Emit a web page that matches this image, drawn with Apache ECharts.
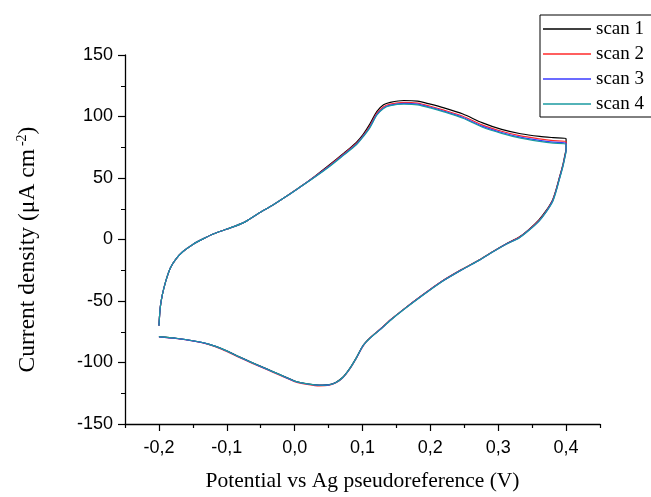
<!DOCTYPE html>
<html>
<head>
<meta charset="utf-8">
<script src="https://cdn.jsdelivr.net/npm/echarts@6/dist/echarts.min.js"></script>
<style>html,body{margin:0;padding:0;background:#fff;}#c{width:651px;height:497px;}</style>
</head>
<body>
<div id="c"></div>
<script>
// Potential (V): forward sweep -0.2 -> 0.4, then reverse sweep 0.4 -> -0.2
const potential = [
  -0.2, -0.198, -0.195, -0.19, -0.183, -0.175, -0.165, -0.15, -0.135, -0.12, -0.1, -0.076, -0.054, -0.032, -0.011, 0.009,
  0.03, 0.051, 0.071, 0.091, 0.101, 0.111, 0.121, 0.131, 0.141, 0.161, 0.181, 0.2, 0.22, 0.248, 0.276, 0.305, 0.333, 0.361, 0.381, 0.4,
  0.4, 0.398, 0.395, 0.39, 0.385, 0.38, 0.37, 0.36, 0.345, 0.331, 0.312, 0.293, 0.274, 0.246, 0.217, 0.189, 0.16, 0.141, 0.126,
  0.111, 0.101, 0.091, 0.081, 0.071, 0.061, 0.051, 0.036, 0.021, 0.0, -0.021, -0.042, -0.063, -0.085, -0.106, -0.127, -0.148, -0.175, -0.2
];
const scan1 = [
  -70, -55, -45, -34, -23, -16, -10, -4, 0.5, 4.5, 8.5, 13.5, 21, 28, 35.5, 43,
  51.5, 60.5, 69.5, 79, 85.5, 94, 104, 109.5, 111.5, 113, 112.5, 110, 107, 102, 95, 89.5, 86, 83.8, 82.8, 82,
  74, 68, 60, 50, 40, 32, 23, 16, 8, 2, -3.5, -9.5, -16, -24.5, -34, -45, -57, -65.5, -73,
  -80, -86, -96, -105, -112, -116, -118, -118.4, -117.5, -115, -110, -105, -100, -94.5, -89, -85, -82.5, -80.3, -79
];
const scan2 = [
  -70, -55, -45, -34, -23, -16, -10, -4, 0.5, 4.5, 8.5, 13.5, 21, 28, 35.5, 43,
  51.3, 60, 69, 78, 84.5, 92.5, 102.5, 108, 110, 111.5, 110.8, 108.3, 105.2, 100.2, 93.2, 88, 84.2, 81.8, 80.4, 79.5,
  73, 67, 59.5, 49.5, 39.5, 31.5, 22.5, 15.5, 7.8, 1.8, -3.6, -9.6, -16, -24.5, -34, -45, -57, -65.5, -73,
  -80, -86.5, -96.5, -105.5, -112.5, -116.5, -118.5, -119, -118, -115.5, -110.5, -105.5, -100.5, -95, -89.5, -85.3, -82.7, -80.5, -79.2
];
const scan3 = [
  -70, -55, -45, -34, -23, -16, -10, -4, 0.5, 4.5, 8.5, 13.5, 21, 28, 35.5, 43,
  51, 59.5, 68.5, 77.5, 84, 91.5, 101.5, 107, 109.2, 110.6, 110, 107.5, 104.3, 99.2, 92.2, 87, 83.2, 80.6, 79.2, 78.3,
  72.5, 66.5, 59, 49, 39, 31, 22, 15, 7.5, 1.5, -3.7, -9.7, -16.2, -24.7, -34.2, -45.2, -57.2, -65.7, -73.2,
  -80.2, -86.3, -96.3, -105.3, -112.3, -116.3, -118.2, -118.6, -117.7, -115.2, -110.2, -105.2, -100.2, -94.7, -89.2, -85.1, -82.6, -80.4, -79.1
];
const scan4 = [
  -70, -55, -45, -34, -23, -16, -10, -4, 0.5, 4.5, 8.5, 13.5, 21, 28, 35.5, 43,
  50.8, 59.2, 68, 77, 83.5, 91, 101, 106.5, 108.8, 110, 109.5, 107, 103.8, 98.6, 91.5, 86.3, 82.4, 79.8, 78.3, 77.3,
  72, 66, 58.5, 48.5, 38.5, 30.5, 21.8, 14.8, 7.3, 1.3, -3.8, -9.8, -16.3, -24.8, -34.3, -45.3, -57.3, -65.8, -73.3,
  -80.3, -86.2, -96.2, -105.2, -112.2, -116.2, -118.1, -118.5, -117.6, -115.1, -110.1, -105.1, -100.1, -94.6, -89.1, -85, -82.5, -80.3, -79
];
const seriesNames = ['scan 1', 'scan 2', 'scan 3', 'scan 4'];
const seriesColors = ['#000000', '#ff2a2a', '#3a3aff', '#1a9aa0'];
const xMajorTicks = [-0.2, -0.1, 0.0, 0.1, 0.2, 0.3, 0.4];
const xMinorTicks = [-0.25, -0.15, -0.05, 0.05, 0.15, 0.25, 0.35, 0.45];

const allScans = [scan1, scan2, scan3, scan4];
const chart = echarts.init(document.getElementById('c'), null, {renderer: 'canvas'});
const sans = 'Liberation Sans, Arial, sans-serif';
const serif = 'Liberation Serif, Times New Roman, serif';

chart.setOption({
  animation: false,
  backgroundColor: '#ffffff',
  grid: {left: 125, right: 51, top: 55, bottom: 71},
  legend: {
    orient: 'vertical', left: 540, top: 15,
    padding: [4, 40, 3, 3],
    itemWidth: 48, itemHeight: 1.5, itemGap: 5,
    icon: 'rect',
    borderColor: '#000', borderWidth: 1,
    textStyle: {fontFamily: serif, fontSize: 19, color: '#000', lineHeight: 20},
    data: seriesNames
  },
  xAxis: [{
    type: 'value', min: -0.25, max: 0.45, interval: 0.05,
    position: 'bottom',
    name: 'Potential vs Ag pseudoreference (V)',
    nameLocation: 'middle', nameGap: 46,
    nameTextStyle: {fontFamily: serif, fontSize: 21.5, color: '#000'},
    axisLine: {onZero: false, lineStyle: {color: '#000', width: 1.3}},
    axisTick: {inside: false, length: 7, lineStyle: {color: '#000', width: 1.2}, customValues: xMajorTicks},
    axisLabel: {fontFamily: sans, fontSize: 18, color: '#000', margin: 15, customValues: xMajorTicks,
      formatter: v => v.toFixed(1).replace('.', ',')},
    splitLine: {show: false}
  }, {
    type: 'value', min: -0.25, max: 0.45, interval: 0.05,
    position: 'bottom',
    axisLine: {show: false, onZero: false},
    axisTick: {inside: false, length: 4, lineStyle: {color: '#000', width: 1.2}, customValues: xMinorTicks},
    axisLabel: {show: false},
    splitLine: {show: false}
  }],
  yAxis: {
    type: 'value', min: -150, max: 150, interval: 50,
    name: 'Current density (μA cm{sup|-2})',
    nameLocation: 'middle', nameGap: 84,
    nameTextStyle: {fontFamily: serif, fontSize: 23.5, color: '#000', lineHeight: 26, padding: [0, 20, 0, 0],
      rich: {sup: {fontFamily: serif, fontSize: 14, color: '#000', verticalAlign: 'top', lineHeight: 13, padding: [0, 0, 0, 3]}}},
    axisLine: {show: true, onZero: false, lineStyle: {color: '#000', width: 1.3}},
    axisTick: {show: true, inside: false, length: 7, lineStyle: {color: '#000', width: 1.2}},
    minorTick: {show: true, splitNumber: 2, length: 4, lineStyle: {color: '#000', width: 1}},
    axisLabel: {fontFamily: sans, fontSize: 18, color: '#000', margin: 12},
    splitLine: {show: false},
    minorSplitLine: {show: false}
  },
  series: allScans.map((s, k) => ({
    name: seriesNames[k],
    type: 'line',
    xAxisIndex: 0,
    symbol: 'none',
    showSymbol: false,
    smooth: 0.25,
    lineStyle: {color: seriesColors[k], width: 1.2},
    itemStyle: {color: seriesColors[k]},
    data: potential.map((v, i) => [v, s[i]])
  }))
});
</script>
</body>
</html>
